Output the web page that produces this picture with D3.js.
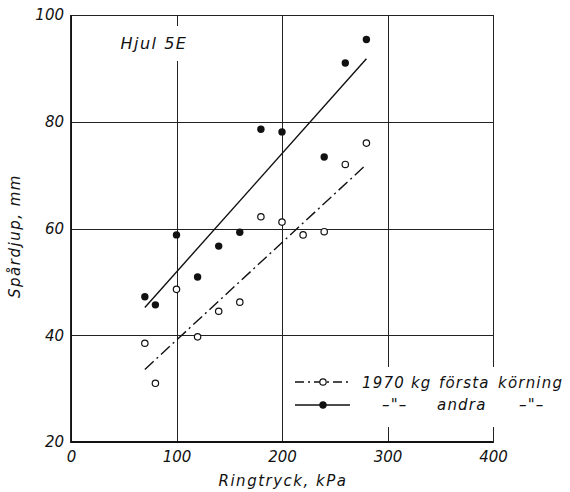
<!DOCTYPE html>
<html>
<head>
<meta charset="utf-8">
<script src="https://cdn.jsdelivr.net/npm/d3@7"></script>
<style>
  body { margin: 0; background: #fff; }
  svg text { font-family: "DejaVu Sans", sans-serif; font-style: italic; fill: #111; }
</style>
</head>
<body>
<div id="wrapper"></div>
<script>
// data
const xTicks = [0, 100, 200, 300, 400];
const yTicks = [20, 40, 60, 80, 100];

const forstaX = [70, 80, 100, 120, 140, 160, 180, 200, 220, 240, 260, 280];
const forstaY = [38.5, 31, 48.6, 39.7, 44.5, 46.2, 62.2, 61.2, 58.8, 59.4, 72, 76];

const andraX = [70, 80, 100, 120, 140, 160, 180, 200, 240, 260, 280];
const andraY = [47.2, 45.7, 58.8, 50.9, 56.7, 59.3, 78.6, 78.1, 73.4, 91, 95.4];

// fitted lines (end points)
const forstaFitX = [70, 280];
const forstaFitY = [33.6, 72];
const andraFitX = [70, 280];
const andraFitY = [45.2, 91.8];

// dimensions
let dimensions = {
  width: 570,
  height: 492,
  margin: { top: 15, right: 77, bottom: 50, left: 71 }
};
dimensions.boundW = dimensions.width - dimensions.margin.left - dimensions.margin.right;
dimensions.boundH = dimensions.height - dimensions.margin.top - dimensions.margin.bottom;

const svg = d3.select('#wrapper').append('svg')
  .attr('width', dimensions.width)
  .attr('height', dimensions.height);

const bounds = svg.append('g')
  .attr('transform', `translate(${dimensions.margin.left},${dimensions.margin.top})`);

const xScale = d3.scaleLinear().domain([0, 400]).range([0, dimensions.boundW]);
const yScale = d3.scaleLinear().domain([20, 100]).range([dimensions.boundH, 0]);

// grid + tick labels
const xAxis = bounds.append('g')
  .attr('transform', `translate(0,${dimensions.boundH})`)
  .call(d3.axisBottom(xScale).tickValues(xTicks).tickSize(-dimensions.boundH).tickPadding(9));
const yAxis = bounds.append('g')
  .call(d3.axisLeft(yScale).tickValues(yTicks).tickSize(-dimensions.boundW).tickPadding(7));

[xAxis, yAxis].forEach(a => {
  a.select('.domain').remove();
  a.selectAll('line')
    .attr('stroke', '#222')
    .attr('stroke-width', 1)
    .attr('shape-rendering', 'crispEdges');
  a.selectAll('text').attr('font-size', 15).attr('fill', '#111');
});

// frame
bounds.append('rect')
  .attr('width', dimensions.boundW)
  .attr('height', dimensions.boundH)
  .attr('fill', 'none')
  .attr('stroke', '#222')
  .attr('stroke-width', 1)
  .attr('shape-rendering', 'crispEdges');
bounds.append('path')
  .attr('d', `M0,0V${dimensions.boundH}H${dimensions.boundW}`)
  .attr('fill', 'none')
  .attr('stroke', '#111')
  .attr('stroke-width', 1.8);

// label box "Hjul 5E" (breaks the 100 grid line)
bounds.append('rect')
  .attr('x', xScale(100) - 8).attr('y', 11)
  .attr('width', 16).attr('height', 35)
  .attr('fill', '#fff');
bounds.append('text')
  .attr('x', xScale(100) - 56).attr('y', 34)
  .attr('font-size', 16)
  .attr('letter-spacing', 1.5)
  .text('Hjul 5E');

// fitted lines
const line = d3.line().x(d => xScale(d[0])).y(d => yScale(d[1]));
bounds.append('path')
  .attr('d', line(d3.zip(andraFitX, andraFitY)))
  .attr('stroke', '#111').attr('stroke-width', 1.4).attr('fill', 'none');
bounds.append('path')
  .attr('d', line(d3.zip(forstaFitX, forstaFitY)))
  .attr('stroke', '#111').attr('stroke-width', 1.4).attr('fill', 'none')
  .attr('stroke-dasharray', '12,4,2,4');

// points
bounds.selectAll('.andra')
  .data(d3.zip(andraX, andraY))
  .join('circle')
  .attr('class', 'andra')
  .attr('cx', d => xScale(d[0]))
  .attr('cy', d => yScale(d[1]))
  .attr('r', 3.7)
  .attr('fill', '#111');

bounds.selectAll('.forsta')
  .data(d3.zip(forstaX, forstaY))
  .join('circle')
  .attr('class', 'forsta')
  .attr('cx', d => xScale(d[0]))
  .attr('cy', d => yScale(d[1]))
  .attr('r', 3.2)
  .attr('fill', '#fff')
  .attr('stroke', '#111')
  .attr('stroke-width', 1.2);

// legend
const legend = svg.append('g');
legend.append('rect')
  .attr('x', 289).attr('y', 367)
  .attr('width', 281).attr('height', 60)
  .attr('fill', '#fff');

legend.append('line')
  .attr('x1', 295).attr('x2', 350).attr('y1', 382).attr('y2', 382)
  .attr('stroke', '#111').attr('stroke-width', 1.4)
  .attr('stroke-dasharray', '9,4,2,4');
legend.append('circle')
  .attr('cx', 323).attr('cy', 382).attr('r', 3.2)
  .attr('fill', '#fff').attr('stroke', '#111').attr('stroke-width', 1.2);

legend.append('line')
  .attr('x1', 295).attr('x2', 350).attr('y1', 405).attr('y2', 405)
  .attr('stroke', '#111').attr('stroke-width', 1.5);
legend.append('circle')
  .attr('cx', 323).attr('cy', 405).attr('r', 3.7)
  .attr('fill', '#111');

const legendText = [
  { x: 362, y: 388, t: '1970 kg' },
  { x: 439, y: 388, t: 'första' },
  { x: 498, y: 388, t: 'körning' },
  { x: 382, y: 410, t: '–"–' },
  { x: 437, y: 410, t: 'andra' },
  { x: 519, y: 410, t: '–"–' }
];
legend.selectAll('.lt')
  .data(legendText)
  .join('text')
  .attr('class', 'lt')
  .attr('x', d => d.x).attr('y', d => d.y)
  .attr('font-size', 15)
  .attr('letter-spacing', 1.2)
  .text(d => d.t);

// axis titles
svg.append('text')
  .attr('x', 283).attr('y', 486)
  .attr('text-anchor', 'middle')
  .attr('font-size', 15)
  .attr('letter-spacing', 1.5)
  .text('Ringtryck, kPa');

svg.append('text')
  .attr('transform', 'translate(20,236) rotate(-90)')
  .attr('text-anchor', 'middle')
  .attr('font-size', 15)
  .attr('letter-spacing', 1.5)
  .text('Spårdjup, mm');
</script>
</body>
</html>
